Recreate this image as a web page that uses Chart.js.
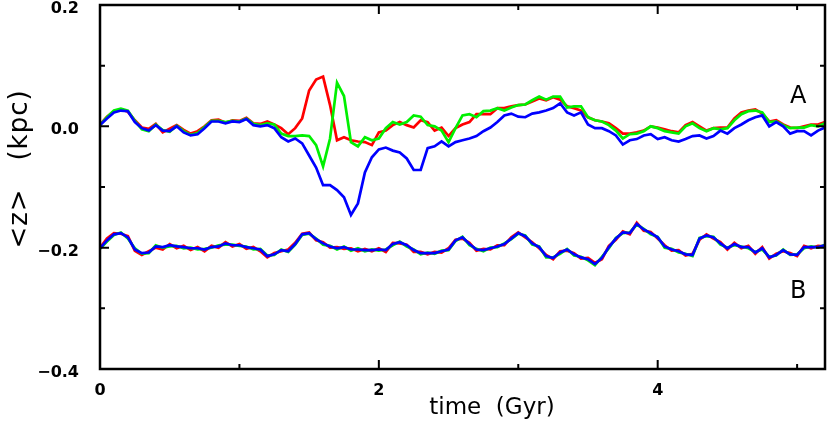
<!DOCTYPE html>
<html lang="en">
<head>
    <meta charset="UTF-8">
    <title>Vertical displacement vs time</title>
    <script src="https://cdn.jsdelivr.net/npm/chart.js"></script>
    <style>
        body { margin: 0; background: #fff; }
        #wrap { width: 830px; height: 423px; }
    </style>
</head>
<body>
    <div id="wrap"><canvas id="zChart" width="830" height="423"></canvas></div>

    <script>
        // time grid (Gyr), every 0.05
        const time = [
            0.00, 0.05, 0.10, 0.15, 0.20, 0.25, 0.30, 0.35, 0.40, 0.45,
            0.50, 0.55, 0.60, 0.65, 0.70, 0.75, 0.80, 0.85, 0.90, 0.95,
            1.00, 1.05, 1.10, 1.15, 1.20, 1.25, 1.30, 1.35, 1.40, 1.45,
            1.50, 1.55, 1.60, 1.65, 1.70, 1.75, 1.80, 1.85, 1.90, 1.95,
            2.00, 2.05, 2.10, 2.15, 2.20, 2.25, 2.30, 2.35, 2.40, 2.45,
            2.50, 2.55, 2.60, 2.65, 2.70, 2.75, 2.80, 2.85, 2.90, 2.95,
            3.00, 3.05, 3.10, 3.15, 3.20, 3.25, 3.30, 3.35, 3.40, 3.45,
            3.50, 3.55, 3.60, 3.65, 3.70, 3.75, 3.80, 3.85, 3.90, 3.95,
            4.00, 4.05, 4.10, 4.15, 4.20, 4.25, 4.30, 4.35, 4.40, 4.45,
            4.50, 4.55, 4.60, 4.65, 4.70, 4.75, 4.80, 4.85, 4.90, 4.95,
            5.00, 5.05, 5.10, 5.15, 5.20
        ];

        // run A  <z> in kpc
        const redA = [
            0.003, 0.016, 0.025, 0.028, 0.024, 0.010, -0.002, -0.004, 0.004, -0.010,
            -0.004, 0.002, -0.006, -0.012, -0.008, 0.000, 0.010, 0.011, 0.006, 0.010,
            0.009, 0.014, 0.005, 0.004, 0.008, 0.003, -0.003, -0.013, -0.003, 0.013,
            0.059, 0.077, 0.082, 0.035, -0.023, -0.018, -0.023, -0.025, -0.026, -0.031,
            -0.010, -0.007, 0.002, 0.007, 0.002, -0.002, 0.010, 0.007, -0.007, -0.002,
            -0.016, -0.003, 0.003, 0.007, 0.020, 0.020, 0.020, 0.030, 0.030, 0.033,
            0.035, 0.036, 0.041, 0.046, 0.043, 0.048, 0.044, 0.033, 0.030, 0.026,
            0.015, 0.010, 0.008, 0.005, -0.003, -0.012, -0.012, -0.010, -0.007, 0.000,
            -0.002, -0.005, -0.008, -0.010, 0.002, 0.007, 0.000, -0.007, -0.003, -0.002,
            -0.002, 0.013, 0.023, 0.026, 0.028, 0.021, 0.008, 0.010, 0.003, -0.002,
            -0.003, 0.000, 0.003, 0.003, 0.007
        ];
        const greenA = [
            0.002, 0.015, 0.026, 0.029, 0.026, 0.009, -0.005, -0.008, 0.003, -0.006,
            -0.009, 0.001, -0.008, -0.014, -0.011, -0.001, 0.009, 0.009, 0.007, 0.009,
            0.008, 0.013, 0.004, 0.002, 0.005, 0.003, -0.012, -0.016, -0.016, -0.015,
            -0.016, -0.031, -0.066, -0.020, 0.072, 0.050, -0.026, -0.033, -0.018, -0.023,
            -0.020, -0.003, 0.007, 0.003, 0.007, 0.018, 0.016, 0.002, 0.000, -0.007,
            -0.026, -0.003, 0.018, 0.020, 0.015, 0.025, 0.026, 0.030, 0.026, 0.031,
            0.035, 0.036, 0.043, 0.049, 0.044, 0.049, 0.049, 0.031, 0.033, 0.033,
            0.015, 0.010, 0.008, 0.002, -0.007, -0.020, -0.013, -0.012, -0.008, 0.000,
            -0.003, -0.008, -0.010, -0.012, 0.000, 0.005, -0.003, -0.008, -0.003, -0.005,
            -0.003, 0.010, 0.020, 0.025, 0.026, 0.023, 0.007, 0.008, 0.002, -0.003,
            -0.002, -0.002, 0.002, 0.000, 0.005
        ];
        const blueA = [
            0.002, 0.013, 0.023, 0.026, 0.025, 0.007, -0.003, -0.007, 0.002, -0.007,
            -0.008, 0.000, -0.010, -0.015, -0.013, -0.003, 0.008, 0.008, 0.005, 0.008,
            0.007, 0.012, 0.002, 0.000, 0.002, -0.003, -0.018, -0.025, -0.020, -0.028,
            -0.048, -0.068, -0.097, -0.097, -0.105, -0.117, -0.146, -0.127, -0.076, -0.051,
            -0.038, -0.035, -0.040, -0.043, -0.053, -0.072, -0.072, -0.036, -0.033, -0.025,
            -0.033, -0.026, -0.023, -0.020, -0.016, -0.008, -0.002, 0.007, 0.018, 0.021,
            0.016, 0.015, 0.021, 0.023, 0.026, 0.030, 0.038, 0.023, 0.018, 0.023,
            0.003, -0.003, -0.003, -0.008, -0.015, -0.030, -0.023, -0.021, -0.015, -0.013,
            -0.021, -0.018, -0.023, -0.025, -0.021, -0.016, -0.015, -0.020, -0.016, -0.007,
            -0.012, -0.003, 0.003, 0.010, 0.015, 0.018, 0.000, 0.007, 0.000, -0.012,
            -0.008, -0.008, -0.015, -0.007, -0.002
        ];

        // run B  <z> in kpc
        const redB = [
            -0.200, -0.185, -0.176, -0.177, -0.181, -0.205, -0.212, -0.206, -0.200, -0.203,
            -0.194, -0.201, -0.197, -0.204, -0.199, -0.206, -0.197, -0.200, -0.191, -0.198,
            -0.194, -0.202, -0.199, -0.206, -0.216, -0.209, -0.206, -0.203, -0.192, -0.177,
            -0.175, -0.188, -0.191, -0.200, -0.199, -0.202, -0.201, -0.206, -0.202, -0.206,
            -0.201, -0.207, -0.192, -0.193, -0.195, -0.207, -0.207, -0.211, -0.207, -0.208,
            -0.201, -0.187, -0.185, -0.192, -0.205, -0.202, -0.203, -0.196, -0.196, -0.183,
            -0.175, -0.183, -0.191, -0.201, -0.212, -0.219, -0.206, -0.205, -0.209, -0.218,
            -0.217, -0.225, -0.219, -0.197, -0.187, -0.173, -0.178, -0.159, -0.172, -0.174,
            -0.185, -0.196, -0.205, -0.204, -0.213, -0.210, -0.187, -0.178, -0.185, -0.191,
            -0.203, -0.192, -0.201, -0.197, -0.210, -0.199, -0.218, -0.210, -0.206, -0.209,
            -0.214, -0.197, -0.201, -0.197, -0.198
        ];
        const greenB = [
            -0.202, -0.190, -0.179, -0.175, -0.185, -0.201, -0.210, -0.209, -0.196, -0.200,
            -0.198, -0.197, -0.201, -0.200, -0.203, -0.202, -0.200, -0.196, -0.195, -0.195,
            -0.197, -0.198, -0.203, -0.202, -0.213, -0.212, -0.203, -0.207, -0.195, -0.179,
            -0.177, -0.185, -0.195, -0.197, -0.203, -0.198, -0.205, -0.201, -0.206, -0.203,
            -0.205, -0.203, -0.196, -0.190, -0.198, -0.203, -0.211, -0.208, -0.210, -0.205,
            -0.204, -0.189, -0.182, -0.196, -0.202, -0.206, -0.200, -0.199, -0.193, -0.186,
            -0.177, -0.180, -0.195, -0.198, -0.216, -0.216, -0.210, -0.202, -0.213, -0.215,
            -0.221, -0.229, -0.215, -0.201, -0.184, -0.176, -0.175, -0.162, -0.169, -0.178,
            -0.182, -0.200, -0.202, -0.208, -0.210, -0.214, -0.184, -0.181, -0.182, -0.195,
            -0.200, -0.196, -0.198, -0.201, -0.207, -0.203, -0.215, -0.213, -0.203, -0.212,
            -0.211, -0.201, -0.198, -0.200, -0.195
        ];
        const blueB = [
            -0.201, -0.188, -0.178, -0.176, -0.183, -0.203, -0.209, -0.208, -0.198, -0.199,
            -0.196, -0.198, -0.199, -0.201, -0.201, -0.203, -0.199, -0.198, -0.193, -0.196,
            -0.196, -0.199, -0.201, -0.203, -0.214, -0.211, -0.204, -0.206, -0.194, -0.178,
            -0.176, -0.186, -0.193, -0.198, -0.201, -0.199, -0.203, -0.203, -0.204, -0.204,
            -0.203, -0.204, -0.194, -0.191, -0.196, -0.204, -0.209, -0.209, -0.209, -0.206,
            -0.203, -0.188, -0.183, -0.194, -0.203, -0.204, -0.201, -0.198, -0.194, -0.185,
            -0.176, -0.181, -0.193, -0.199, -0.214, -0.217, -0.208, -0.203, -0.211, -0.216,
            -0.219, -0.227, -0.217, -0.199, -0.185, -0.175, -0.176, -0.161, -0.170, -0.176,
            -0.183, -0.198, -0.203, -0.206, -0.211, -0.212, -0.185, -0.180, -0.183, -0.193,
            -0.201, -0.194, -0.199, -0.199, -0.208, -0.201, -0.216, -0.212, -0.204, -0.211,
            -0.212, -0.199, -0.199, -0.199, -0.196
        ];

        // axis ticks
        const xMajor = [0, 2, 4];
        const xMinor = [1, 3, 5];
        const yMajor = [-0.4, -0.2, 0.0, 0.2];
        const yMinor = [-0.3, -0.1, 0.1];
        const runLabels = [{ text: 'A', y: 0.038 }, { text: 'B', y: -0.283 }];

        const pts = vals => vals.map((v, i) => ({ x: time[i], y: v }));
        const line = (data, color) => ({
            data: pts(data),
            borderColor: color,
            borderWidth: 2.7,
            pointRadius: 0,
            tension: 0,
            fill: false
        });

        // frame, inward ticks, titles and run labels
        const framePlugin = {
            id: 'frame',
            afterDraw(chart) {
                const { ctx, chartArea: a, scales } = chart;
                const xs = scales.x, ys = scales.y;
                ctx.save();
                ctx.strokeStyle = '#000';
                ctx.lineWidth = 2.5;
                ctx.strokeRect(a.left, a.top, a.right - a.left, a.bottom - a.top);

                ctx.lineWidth = 2;
                ctx.beginPath();
                const xt = (v, len) => {
                    const px = xs.getPixelForValue(v);
                    ctx.moveTo(px, a.bottom); ctx.lineTo(px, a.bottom - len);
                    ctx.moveTo(px, a.top); ctx.lineTo(px, a.top + len);
                };
                const yt = (v, len) => {
                    const py = ys.getPixelForValue(v);
                    ctx.moveTo(a.left, py); ctx.lineTo(a.left + len, py);
                    ctx.moveTo(a.right, py); ctx.lineTo(a.right - len, py);
                };
                xMajor.forEach(v => xt(v, 9));
                xMinor.forEach(v => xt(v, 5));
                yMajor.forEach(v => yt(v, 9));
                yMinor.forEach(v => yt(v, 5));
                ctx.stroke();

                ctx.fillStyle = '#000';
                ctx.font = '24px "DejaVu Sans"';
                ctx.textAlign = 'left';
                ctx.textBaseline = 'alphabetic';
                runLabels.forEach(l => {
                    ctx.fillText(l.text, 790, ys.getPixelForValue(l.y));
                });

                ctx.font = '23px "DejaVu Sans"';
                ctx.textAlign = 'center';
                ctx.fillText('time  (Gyr)', 492, 414);

                ctx.translate(27, 169);
                ctx.rotate(-Math.PI / 2);
                ctx.font = '26px "DejaVu Sans"';
                ctx.letterSpacing = '1px';
                ctx.fillText('<z>   (kpc)', 0, 0);
                ctx.restore();
            }
        };

        const ctx = document.getElementById('zChart').getContext('2d');
        new Chart(ctx, {
            type: 'line',
            data: {
                datasets: [
                    line(blueA, '#0000ff'),
                    line(blueB, '#0000ff'),
                    line(greenA, '#00f000'),
                    line(greenB, '#00f000'),
                    line(redA, '#ff0000'),
                    line(redB, '#ff0000')
                ]
            },
            options: {
                responsive: false,
                animation: false,
                layout: { padding: { top: 5, right: 5, left: 0, bottom: 0 } },
                plugins: { legend: { display: false }, tooltip: { enabled: false } },
                scales: {
                    x: {
                        type: 'linear',
                        min: 0,
                        max: 5.2,
                        afterFit: s => { s.height = 54; s.paddingLeft = 0; s.paddingRight = 0; },
                        afterBuildTicks: s => { s.ticks = xMajor.map(v => ({ value: v })); },
                        grid: { display: false, drawTicks: false },
                        border: { display: false },
                        ticks: {
                            color: '#000',
                            padding: 12,
                            maxRotation: 0,
                            font: { family: 'DejaVu Sans', size: 16, weight: 'bold' },
                            callback: v => String(v)
                        }
                    },
                    y: {
                        min: -0.4,
                        max: 0.2,
                        afterFit: s => { s.width = 100; s.paddingTop = 0; s.paddingBottom = 0; },
                        afterBuildTicks: s => { s.ticks = yMajor.map(v => ({ value: v })); },
                        grid: { display: false, drawTicks: false },
                        border: { display: false },
                        ticks: {
                            color: '#000',
                            padding: 21,
                            labelOffset: 4,
                            font: { family: 'DejaVu Sans', size: 16, weight: 'bold' },
                            callback: v => v.toFixed(1).replace('-', '\u2212')
                        }
                    }
                }
            },
            plugins: [framePlugin]
        });
    </script>
</body>
</html>
